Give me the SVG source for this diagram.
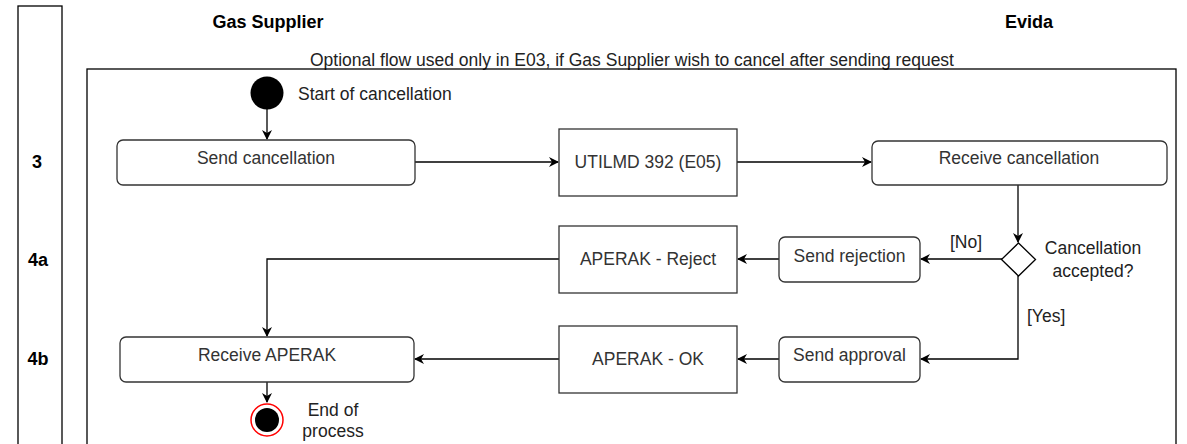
<svg xmlns="http://www.w3.org/2000/svg" width="1187" height="444" viewBox="0 0 1187 444">
<defs>
<marker id="arr" viewBox="0 0 10 10" refX="9" refY="5" markerWidth="10" markerHeight="10" markerUnits="userSpaceOnUse" orient="auto">
<path d="M0,0 L10,5 L0,10 L3,5 Z" fill="#000"/>
</marker>
<style>
.frame{fill:none;stroke:#000;stroke-width:1.3}
.rbox{fill:#fff;stroke:#333;stroke-width:1.3}
.box{fill:#fff;stroke:#333;stroke-width:1.3}
.t{font-family:"Liberation Sans",Arial,sans-serif;font-size:17.5px;fill:#333;text-anchor:middle;dominant-baseline:central}
.tl{font-family:"Liberation Sans",Arial,sans-serif;font-size:17.5px;fill:#222}
.b{font-family:"Liberation Sans",Arial,sans-serif;font-size:18px;font-weight:bold;fill:#000;text-anchor:middle;dominant-baseline:central}
.c{fill:none;stroke:#000;stroke-width:1.3;marker-end:url(#arr)}
</style>
</defs>
<rect width="1187" height="444" fill="#fff"/>
<g id="phase-column">
<rect class="frame" x="18" y="6" width="44" height="450"/>
<text class="b" x="37" y="162">3</text>
<text class="b" x="38" y="260">4a</text>
<text class="b" x="38" y="359">4b</text>
</g>
<g id="lanes">
<text class="b" x="268" y="22">Gas Supplier</text>
<text class="b" x="1029" y="22">Evida</text>
<text class="tl" x="632" y="60" text-anchor="middle" dominant-baseline="central">Optional flow used only in E03, if Gas Supplier wish to cancel after sending request</text>
<rect class="frame" x="87" y="69" width="1089" height="390"/>
</g>
<g id="connectors">
<path class="c" d="M267,109 L267,139"/>
<path class="c" d="M415,162 L558,162"/>
<path class="c" d="M737,162 L871,162"/>
<path class="c" d="M1018,185 L1018,242"/>
<path class="c" d="M1002,259 L921,259"/>
<path class="c" d="M779,259 L738,259"/>
<path class="c" d="M559,259 L267,259 L267,336"/>
<path class="c" d="M1018,276 L1018,359 L921,359"/>
<path class="c" d="M779,359 L738,359"/>
<path class="c" d="M559,359 L415,359"/>
<path class="c" d="M267,382 L267,402"/>
<text class="tl" x="950" y="242" dominant-baseline="central">[No]</text>
<text class="tl" x="1027" y="316" dominant-baseline="central">[Yes]</text>
</g>
<g id="start">
<circle cx="267" cy="93" r="16.5" fill="#000"/>
<text class="tl" x="298" y="94" dominant-baseline="central">Start of cancellation</text>
</g>
<g id="send-cancellation">
<rect class="rbox" x="117" y="140" width="298" height="45" rx="6"/>
<text class="t" x="266" y="158">Send cancellation</text>
</g>
<g id="utilmd">
<rect class="box" x="559" y="129" width="178" height="67"/>
<text class="t" x="648" y="162">UTILMD 392 (E05)</text>
</g>
<g id="receive-cancellation">
<rect class="rbox" x="872" y="141" width="295" height="44" rx="6"/>
<text class="t" x="1019" y="158">Receive cancellation</text>
</g>
<g id="decision">
<path d="M1018.5,243 L1035.5,259.5 L1018.5,276 L1001.5,259.5 Z" fill="#fff" stroke="#000" stroke-width="1.3"/>
<text class="tl" x="1093" y="248" text-anchor="middle" dominant-baseline="central">Cancellation</text>
<text class="tl" x="1093" y="271" text-anchor="middle" dominant-baseline="central">accepted?</text>
</g>
<g id="send-rejection">
<rect class="rbox" x="779" y="237" width="141" height="45" rx="6"/>
<text class="t" x="849.5" y="256">Send rejection</text>
</g>
<g id="aperak-reject">
<rect class="box" x="559" y="226" width="178" height="67"/>
<text class="t" x="648" y="259">APERAK - Reject</text>
</g>
<g id="send-approval">
<rect class="rbox" x="779" y="337" width="141" height="45" rx="6"/>
<text class="t" x="849.5" y="355">Send approval</text>
</g>
<g id="aperak-ok">
<rect class="box" x="559" y="326" width="178" height="67"/>
<text class="t" x="648" y="359">APERAK - OK</text>
</g>
<g id="receive-aperak">
<rect class="rbox" x="120" y="337" width="294" height="45" rx="6"/>
<text class="t" x="267" y="355">Receive APERAK</text>
</g>
<g id="end">
<circle cx="267" cy="420" r="16" fill="#fff" stroke="#ff0000" stroke-width="1.5"/>
<circle cx="267" cy="420" r="12" fill="#000"/>
<text class="tl" x="333" y="410" text-anchor="middle" dominant-baseline="central">End of</text>
<text class="tl" x="333" y="431" text-anchor="middle" dominant-baseline="central">process</text>
</g>
</svg>
